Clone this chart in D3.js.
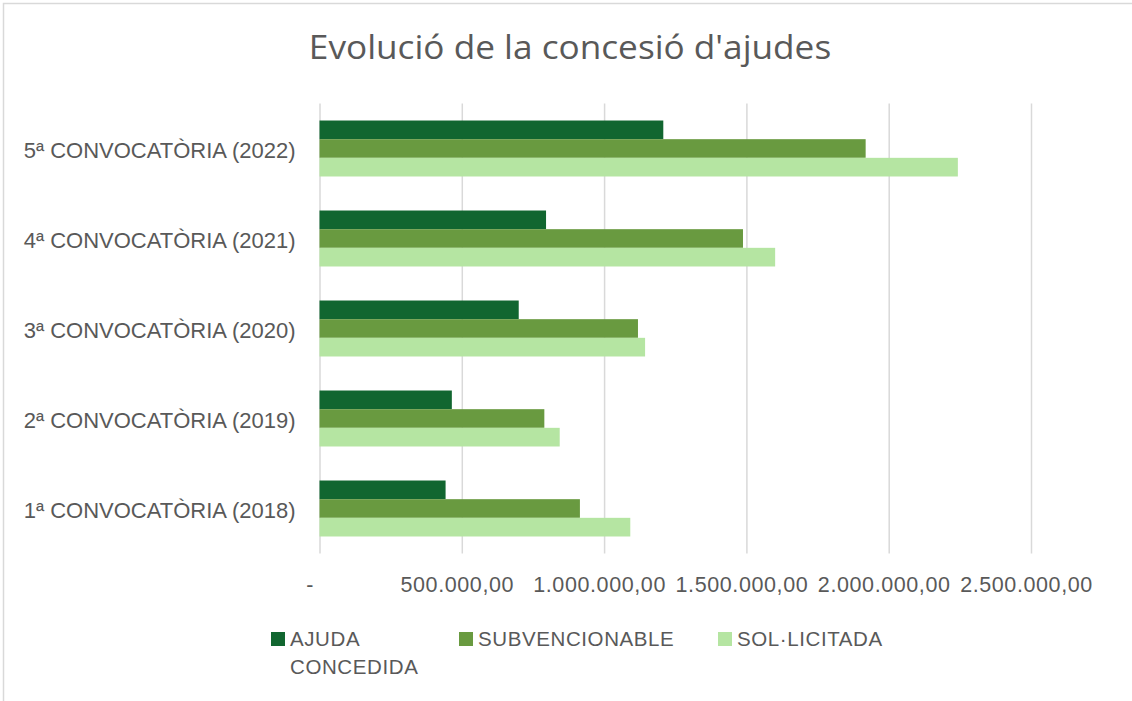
<!DOCTYPE html>
<html>
<head>
<meta charset="utf-8">
<script src="https://cdn.jsdelivr.net/npm/d3@7"></script>
<style>
  body { margin: 0; background: #fff; }
  text { fill: #595959; font-family: 'Liberation Sans', Arial, sans-serif; }
</style>
</head>
<body>
<div id="canvas"></div>
<script>
const categories = ['1ª CONVOCATÒRIA (2018)', '2ª CONVOCATÒRIA (2019)', '3ª CONVOCATÒRIA (2020)', '4ª CONVOCATÒRIA (2021)', '5ª CONVOCATÒRIA (2022)'];
const seriesNames = ['AJUDA CONCEDIDA', 'SUBVENCIONABLE', 'SOL·LICITADA'];
const ajudaConcedida = [443000, 465000, 700000, 796000, 1208000];
const subvencionable = [915000, 790000, 1119000, 1488000, 1919000];
const solLicitada = [1092000, 844000, 1144000, 1601000, 2243000];
const tickValues = [0, 500000, 1000000, 1500000, 2000000, 2500000];

const colors = ['#116630', '#699a40', '#b5e5a2'];

const w = 1132;
const h = 701;
const plot = {left: 319.5, right: 1031, top: 103.5, bottom: 553.5};

const rows = categories.map((c, i) => ({cat: c, vals: [ajudaConcedida[i], subvencionable[i], solLicitada[i]]}));

const svg = d3.select('#canvas')
  .append('svg')
  .attr('width', w)
  .attr('height', h);

// chart border (only top/left are in view)
svg.append('rect')
  .attr('x', 3.5)
  .attr('y', 3.5)
  .attr('width', 1300)
  .attr('height', 900)
  .attr('fill', 'none')
  .attr('stroke', '#d9d9d9')
  .attr('stroke-width', 1.5);

const xScale = d3.scaleLinear()
  .domain([0, 2500000])
  .range([plot.left, plot.right]);

const yScale = d3.scaleBand()
  .domain(categories.slice().reverse())
  .range([plot.top, plot.bottom])
  .paddingInner(0.378)
  .paddingOuter(0.189);

const ySub = d3.scaleBand()
  .domain(d3.range(seriesNames.length))
  .range([0, yScale.bandwidth()]);

const loc = d3.formatLocale({decimal: ',', thousands: '.', grouping: [3], currency: ['', '']});
const fmt = loc.format(',.2f');

// gridlines
svg.append('g')
  .attr('transform', 'translate(0,' + plot.top + ')')
  .call(d3.axisBottom(xScale).tickValues(tickValues).tickSize(plot.bottom - plot.top).tickFormat(''))
  .call(g => g.select('.domain').remove())
  .call(g => g.selectAll('line').attr('stroke', '#d9d9d9').attr('stroke-width', 1.5));

// bars
const groups = svg.selectAll('.group')
  .data(rows)
  .enter()
  .append('g')
  .attr('class', 'group')
  .attr('transform', d => 'translate(0,' + yScale(d.cat) + ')');

groups.selectAll('rect')
  .data(d => d.vals)
  .enter()
  .append('rect')
  .attr('x', xScale(0))
  .attr('y', (d, i) => ySub(i))
  .attr('width', d => xScale(d) - xScale(0))
  .attr('height', ySub.bandwidth())
  .attr('fill', (d, i) => colors[i]);

// x axis labels
svg.append('g')
  .attr('id', 'x-axis')
  .attr('transform', 'translate(0,' + plot.bottom + ')')
  .call(d3.axisBottom(xScale).tickValues(tickValues).tickSize(0).tickFormat(d => d === 0 ? '-' : fmt(d)))
  .call(g => g.select('.domain').remove())
  .call(g => g.selectAll('text')
    .attr('y', 38.5)
    .attr('dy', 0)
    .attr('dx', d => d === 0 ? -10 : -5)
    .style('font-size', '21.5px')
    .style('letter-spacing', '0.6px')
    .style('fill', '#595959'));

// y axis labels
svg.append('g')
  .attr('id', 'y-axis')
  .attr('transform', 'translate(' + plot.left + ',0)')
  .call(d3.axisLeft(yScale).tickSize(0).tickPadding(24))
  .call(g => g.select('.domain').remove())
  .call(g => g.selectAll('text')
    .attr('dy', 0)
    .attr('y', 9.6)
    .style('font-size', '22px')
    .style('fill', '#595959'));

// title
svg.append('text')
  .attr('transform', 'translate(570,58.5) scale(1.1,1)')
  .attr('text-anchor', 'middle')
  .style('font-family', "'Open Sans', sans-serif")
  .style('font-size', '32px')
  .text("Evolució de la concesió d'ajudes");

// legend
const legendX = [271, 459, 718];
const legend = svg.selectAll('.legend')
  .data(seriesNames)
  .enter()
  .append('g')
  .attr('class', 'legend')
  .attr('transform', (d, i) => 'translate(' + legendX[i] + ',632)');

legend.append('rect')
  .attr('width', 14)
  .attr('height', 14)
  .attr('fill', (d, i) => colors[i]);

legend.append('text')
  .attr('x', 19)
  .attr('y', 14)
  .style('font-size', '20.5px')
  .style('letter-spacing', '0.6px')
  .each(function(d, i) {
    const parts = i === 0 ? ['AJUDA', 'CONCEDIDA'] : [d];
    d3.select(this).selectAll('tspan')
      .data(parts)
      .enter()
      .append('tspan')
      .attr('x', 19)
      .attr('dy', (p, j) => j === 0 ? 0 : 27.6)
      .text(p => p);
  });
</script>
</body>
</html>
